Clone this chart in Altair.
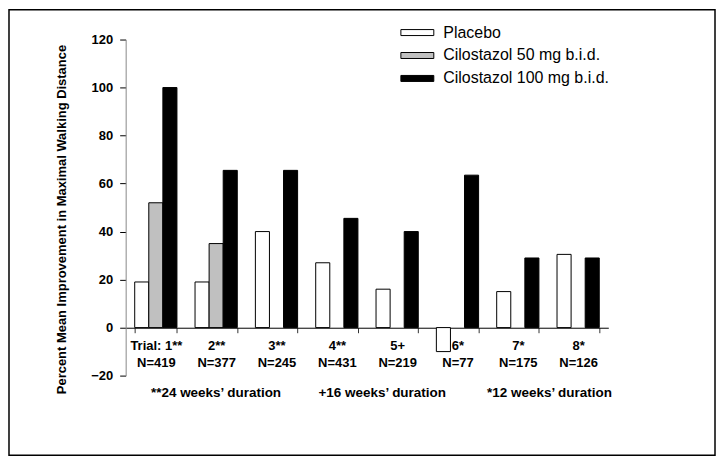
import altair as alt
import pandas as pd

# ---- data ----
trial_labels = ["Trial: 1**|N=419", "2**|N=377", "3**|N=245", "4**|N=431",
                "5+|N=219", "6*|N=77", "7*|N=175", "8*|N=126"]
treatments = ["Placebo", "Cilostazol 50 mg b.i.d.", "Cilostazol 100 mg b.i.d."]
placebo = [19, 19, 40, 27, 16, -10, 15, 30.5]
cilo50 = [52, 35, None, None, None, None, None, None]
cilo100 = [100, 65.5, 65.5, 45.5, 40, 63.5, 29, 29]
y_ticks = [-20, 0, 20, 40, 60, 80, 100, 120]
footnote = ("**24 weeks\u2019 duration" + "\u00a0" * 10 +
            "+16 weeks\u2019 duration" + "\u00a0" * 11 +
            "*12 weeks\u2019 duration")

rows = []
for i, t in enumerate(trial_labels):
    for name, vals in zip(treatments, [placebo, cilo50, cilo100]):
        if vals[i] is not None:
            rows.append({"trial": t, "treatment": name, "value": vals[i]})
df = pd.DataFrame(rows)

FONT = "Liberation Sans"
W, H = 708, 447

bars = alt.Chart(df).mark_bar(stroke="black", strokeWidth=1).encode(
    x=alt.X(
        "trial:N",
        scale=alt.Scale(domain=trial_labels, range=[117, 601],
                        paddingInner=0.3, paddingOuter=0.15),
        axis=alt.Axis(
            offset=-128, labelExpr="split(datum.label, '|')", labelAngle=0,
            labelFont=FONT, labelFontSize=13, labelFontWeight="bold",
            labelColor="black", labelLineHeight=17, labelPadding=7,
            labelOverlap=False, tickBand="extent", tickSize=5,
            tickColor="#333333", domainColor="black", domainWidth=1,
            title=footnote, titleFont=FONT, titleFontSize=13.5,
            titleFontWeight="bold", titleColor="black", titleX=373,
            titleY=65, titleAlign="center", titleBaseline="middle",
            titleLimit=600, grid=False,
        ),
    ),
    xOffset=alt.XOffset("treatment:N",
                        scale=alt.Scale(domain=treatments, paddingInner=0,
                                        paddingOuter=0)),
    y=alt.Y(
        "value:Q",
        scale=alt.Scale(domain=[-20, 120], range=[367, 30], nice=False),
        axis=alt.Axis(
            values=y_ticks, offset=-117, grid=False, tickSize=6,
            tickColor="black", domainColor="#888888", labelPadding=7,
            labelFont=FONT, labelFontSize=13, labelFontWeight="bold",
            labelColor="black",
            title="Percent Mean Improvement in Maximal Walking Distance",
            titleFont=FONT, titleFontSize=13, titleFontWeight="bold",
            titleColor="black", titleAngle=270, titleX=-64, titleY=210,
            titleAlign="center", titleBaseline="middle", titleLimit=500,
        ),
    ),
    y2=alt.datum(0),
    fill=alt.Fill(
        "treatment:N",
        scale=alt.Scale(domain=treatments, range=["white", "#c0c0c0", "black"]),
        legend=alt.Legend(
            title=None, orient="none", legendX=401.5, legendY=15, padding=0,
            symbolType="M-2.75,-0.5H2.75V0.5H-2.75Z", symbolSize=144,
            symbolStrokeColor="black", symbolStrokeWidth=1,
            labelFont=FONT, labelFontSize=16, labelColor="black",
            labelOffset=18, labelLimit=400, rowPadding=7,
        ),
    ),
)

chart = bars.properties(
    width=W, height=H, padding=1,
    autosize=alt.AutoSizeParams(type="none"),
).configure_view(stroke="black", strokeWidth=1.5)

chart.save("out.html", embed_options={"renderer": "svg", "actions": False})
